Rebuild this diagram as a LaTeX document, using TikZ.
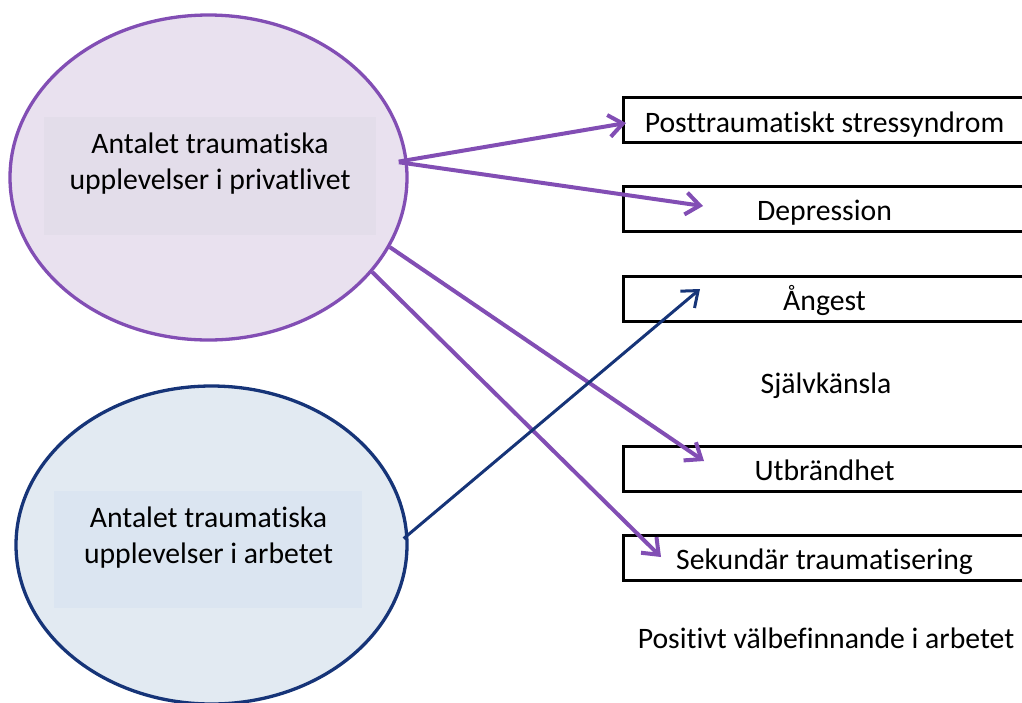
\documentclass[tikz,border=0pt]{standalone}
\usepackage{fontspec}
\setmainfont{Carlito}[Ligatures=NoCommon]
\usetikzlibrary{shapes.geometric,arrows.meta}
\definecolor{purp}{RGB}{130,78,180}
\definecolor{navy}{RGB}{22,52,120}
\definecolor{lavfill}{RGB}{233,225,239}
\definecolor{lavrect}{RGB}{227,221,234}
\definecolor{bluefill}{RGB}{226,234,242}
\definecolor{bluerect}{RGB}{219,229,241}
\tikzset{
  txt/.style={font=\fontsize{29.7}{36}\selectfont, align=center, inner sep=0pt},
  outbox/.style={draw=black, line width=3pt, minimum width=403pt, minimum height=45pt, inner sep=0pt, text height=24pt, text depth=0pt, font=\fontsize{29.7}{36}\selectfont},
  parrow/.style={draw=purp, line width=4pt, -{Straight Barb[length=14pt,width=22pt]}},
  narrow/.style={draw=navy, line width=3pt, -{Straight Barb[length=14pt,width=22pt]}},
}
\begin{document}
\begin{tikzpicture}[x=1pt,y=-1pt]
\useasboundingbox (0,0) rectangle (1022,702);
% ellipses
\node[ellipse, draw=purp, line width=3.3pt, fill=lavfill, minimum width=397pt, minimum height=325pt, inner sep=0pt] (e1) at (208.5,177.5) {};
\node[rectangle, fill=lavrect, minimum width=332pt, minimum height=118pt, inner sep=0pt] (r1) at (210,176) {};
\node[txt] (l1) at (210,164) {Antalet traumatiska\\upplevelser i privatlivet};
\node[ellipse, draw=navy, line width=3.3pt, fill=bluefill, minimum width=391pt, minimum height=318pt, inner sep=0pt] (e2) at (211.5,545) {};
\node[rectangle, fill=bluerect, minimum width=308pt, minimum height=117pt, inner sep=0pt] (r2) at (208,549.5) {};
\node[txt] (l2) at (208.5,538) {Antalet traumatiska\\upplevelser i arbetet};
% outcome boxes
\node[outbox] (b1) at (824.5,120) {Posttraumatiskt stressyndrom};
\node[outbox] (b2) at (824.5,208.5) {Depression};
\node[outbox] (b3) at (824.5,298.5) {Ångest};
\node[txt, anchor=base] (s) at (826,393) {Självkänsla};
\node[outbox] (b4) at (824.5,468.5) {Utbrändhet};
\node[outbox] (b5) at (824.5,557.5) {Sekundär traumatisering};
\node[txt, anchor=base] (p) at (826,648) {Positivt välbefinnande i arbetet};
% arrow targets
\coordinate (t1) at (626,123);
\coordinate (t2) at (703,206);
\coordinate (t3) at (700,289);
\coordinate (t4) at (704,461);
\coordinate (t5) at (661,557);
% arrows
\draw[parrow, shorten <=-9pt] (e1.5) -- (t1);
\draw[parrow, shorten <=-9pt] (e1.4) -- (t2);
\draw[parrow] (e1.-21) -- (t4);
\draw[parrow] (e1.-30) -- (t5);
\draw[narrow, shorten <=-6pt] (e2.3) -- (t3);
\end{tikzpicture}
\end{document}
